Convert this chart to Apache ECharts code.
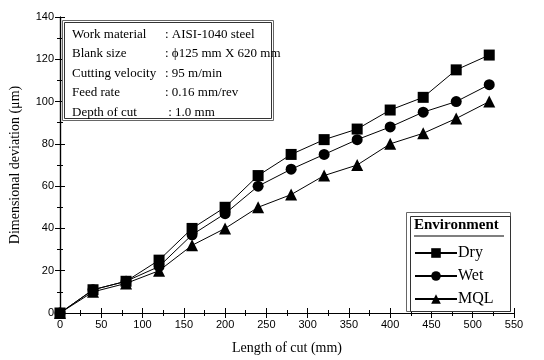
<!DOCTYPE html>
<html>
<head>
<meta charset="utf-8">
<script src="https://cdn.jsdelivr.net/npm/echarts@6/dist/echarts.min.js"></script>
<style>
  html, body { margin: 0; padding: 0; background: #fff; }
  #chart { width: 544px; height: 360px; }
</style>
</head>
<body>
<div id="chart"></div>
<script>
const lengthOfCut = [0, 40, 80, 120, 160, 200, 240, 280, 320, 360, 400, 440, 480, 520];
const dryValues = [0, 11, 15, 25, 40, 50, 65, 75, 82, 87, 96, 102, 115, 122];
const wetValues = [0, 11, 15, 22, 37, 47, 60, 68, 75, 82, 88, 95, 100, 108];
const mqlValues = [0, 10, 14, 20, 32, 40, 50, 56, 65, 70, 80, 85, 92, 100];
const infoLabels = ['Work material', 'Blank size', 'Cutting velocity', 'Feed rate', 'Depth of cut'];
const infoValues = [': AISI-1040 steel', ': \u03d5125 mm X 620 mm', ': 95 m/min', ': 0.16 mm/rev', ' : 1.0 mm'];

const serif = '"Liberation Serif", "Times New Roman", serif';
const sans = '"Liberation Sans", Arial, sans-serif';

const toPairs = (vals) => lengthOfCut.map((x, i) => [x, vals[i]]);

const makeSeries = (name, vals, symbol, size) => ({
  name: name,
  type: 'line',
  data: toPairs(vals),
  symbol: symbol,
  symbolSize: size,
  lineStyle: { color: '#000', width: 1 },
  itemStyle: { color: '#000' },
  z: 3
});

const axisCommon = {
  axisLine: { show: true, lineStyle: { color: '#000', width: 1.2 } },
  axisTick: { show: true, inside: true, length: 5, lineStyle: { color: '#000' } },
  minorTick: { show: true, splitNumber: 2, length: 3, lineStyle: { color: '#000' } },
  splitLine: { show: false }
};

const infoText = [];
infoLabels.forEach((lab, i) => {
  infoText.push({
    type: 'text', left: 72, top: 28 + i * 19.5,
    style: { text: lab, font: '13px ' + serif, fill: '#000' }
  });
  infoText.push({
    type: 'text', left: 165, top: 28 + i * 19.5,
    style: { text: infoValues[i], font: '13px ' + serif, fill: '#000' }
  });
});

const chart = echarts.init(document.getElementById('chart'));
chart.setOption({
  animation: false,
  backgroundColor: '#fff',
  grid: { left: 59, right: 30, top: 17, bottom: 44 },
  xAxis: [
    Object.assign({
      type: 'value', min: 0, max: 550, interval: 50,
      name: 'Length of cut (mm)', nameLocation: 'middle', nameGap: 28,
      nameTextStyle: { fontFamily: serif, fontSize: 14, color: '#000' },
      axisLabel: { fontFamily: sans, fontSize: 11, color: '#000', margin: 6 }
    }, axisCommon),
    Object.assign({
      type: 'value', min: 0, max: 550, interval: 50, position: 'top',
      axisLabel: { show: false }
    }, axisCommon)
  ],
  yAxis: [
    Object.assign({
      type: 'value', min: 0, max: 140, interval: 20,
      name: 'Dimensional deviation (\u03bcm)', nameLocation: 'middle', nameGap: 38,
      nameTextStyle: { fontFamily: serif, fontSize: 14, color: '#000' },
      axisLabel: { fontFamily: sans, fontSize: 11, color: '#000', margin: 6 }
    }, axisCommon),
    Object.assign({
      type: 'value', min: 0, max: 140, interval: 20, position: 'right',
      axisLabel: { show: false }
    }, axisCommon)
  ],
  legend: {
    orient: 'vertical',
    left: 409, top: 240, z: 20,
    itemWidth: 42, itemHeight: 12, itemGap: 7,
    textStyle: { fontFamily: serif, fontSize: 16, color: '#000', padding: [0, 0, 0, -4] },
    data: ['Dry', 'Wet', 'MQL']
  },
  series: [
    makeSeries('Dry', dryValues, 'rect', 11),
    makeSeries('Wet', wetValues, 'circle', 11),
    makeSeries('MQL', mqlValues, 'triangle', 12)
  ],
  graphic: [
    { type: 'rect', left: 62, top: 20, shape: { width: 211, height: 100 },
      style: { fill: '#fff', stroke: '#666', lineWidth: 1 }, z: 10 },
    { type: 'rect', left: 64, top: 22, shape: { width: 207, height: 96 },
      style: { fill: '#fff', stroke: '#333', lineWidth: 1 }, z: 10 },
    { type: 'group', z: 11, children: infoText.map(t => Object.assign(t, { z: 11 })) },
    { type: 'rect', left: 406, top: 212, shape: { width: 104, height: 99 },
      style: { fill: '#fff', stroke: '#666', lineWidth: 1 }, z: 1 },
    { type: 'rect', left: 408, top: 214, shape: { width: 100, height: 95 },
      style: { fill: 'none', stroke: '#333', lineWidth: 1 }, z: 1 },
    { type: 'text', left: 414, top: 218, z: 11,
      style: { text: 'Environment', font: 'bold 15px ' + serif, fill: '#000' } },
    { type: 'line', z: 11, shape: { x1: 414, y1: 236, x2: 504, y2: 236 },
      style: { stroke: '#000', lineWidth: 1.2 } }
  ]
});
</script>
</body>
</html>
